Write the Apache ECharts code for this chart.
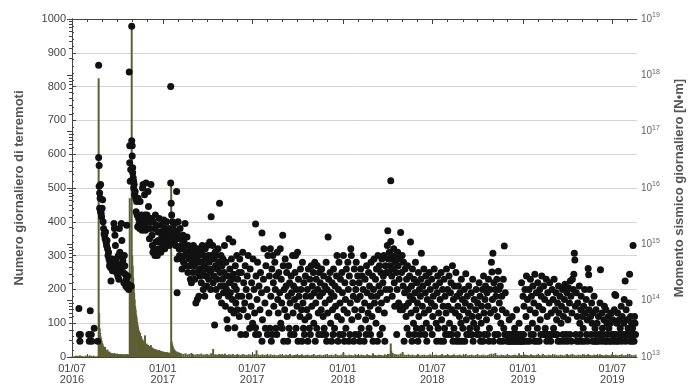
<!DOCTYPE html>
<html>
<head>
<meta charset="utf-8">
<script src="https://cdn.jsdelivr.net/npm/echarts@6/dist/echarts.min.js"></script>
<style>
    html, body { margin: 0; padding: 0; background: #fff; }
    #sismicita { width: 694px; height: 385px; }
</style>
</head>
<body>
<div id="sismicita"></div>
<script>
    // giorni contati dal 01/07/2016
    const etichetteX = ['01/07\n2016', '01/01\n2017', '01/07\n2017', '01/01\n2018', '01/07\n2018', '01/01\n2019', '01/07\n2019'];
    const giorniEtichette = [0, 184, 365, 549, 730, 914, 1095];
    const giornoFine = 1145;

    // numero giornaliero di terremoti [giorno, n]
    const conteggiSequenza = [
        [54,825],[55,130],[56,85],[57,72],[58,60],[59,55],[60,47],[61,42],[62,38],[63,33],[64,30],[65,27],[66,24],[67,30],[68,21],[69,19],[70,18],[71,16],[72,22],[73,15],[74,14],[75,13],[76,16],[77,12],[78,11],[79,12],[80,10],[81,11],[82,9],[83,10],[84,9],[85,8],[86,12],[87,8],[88,9],[89,7],[90,8],[91,10],[92,7],[93,8],[94,7],[95,9],[96,6],[97,8],[98,7],[99,6],[100,9],[101,7],[102,6],[103,8],[104,6],[105,7],[106,6],[107,8],[108,5],[109,6],[110,7],[111,9],[112,6],[113,5],[114,7],[115,6],[116,8],
        [117,470],[118,200],[119,120],[120,90],[121,980],[122,300],[123,270],[124,235],[125,210],[126,190],[127,170],[128,150],[129,140],[130,125],[131,118],[132,105],[133,95],[134,88],[135,80],[136,76],[137,68],[138,72],[139,60],[140,62],[141,55],[142,50],[143,52],[144,45],[145,47],[146,40],[147,44],[148,64],[149,38],[150,35],[151,40],[152,33],[153,30],[154,36],[155,28],[156,32],[157,27],[158,30],[159,25],[160,35],[161,26],[162,24],[163,28],[164,22],[165,25],[166,21],[167,24],[168,20],[169,23],[170,19],[171,22],[172,18],[173,20],[174,17],[175,19],[176,16],[177,21],[178,15],[179,18],[180,16],[181,14],[182,17],[183,15],[184,14],[185,16],[186,13],[187,15],[188,12],[189,14],[190,13],[191,12],[192,15],[193,11],[194,13],[195,12],[196,11],[197,13],[198,10],[199,12],[200,11],
        [201,515],[202,45],[203,38],[204,32],[205,28],[206,24],[207,22],[208,20],[209,18],[210,17],[211,15],[212,16],[213,14],[214,13],[215,12],[216,14],[217,11],[218,12],[219,10],[220,11]
    ];
    const conteggiFondo = [
        [0,3],[4,2],[8,4],[12,3],[16,5],[20,3],[24,2],[28,4],[32,3],[36,5],[40,3],[44,4],[48,2],[52,3],
        [222,10],[226,9],[230,11],[234,8],[238,9],[242,12],[246,8],[250,7],[254,9],[258,8],[262,10],[266,7],[270,8],[274,9],[278,7],[282,11],[286,24],[290,8],[294,7],[298,9],[302,8],[306,7],[310,10],[314,6],[318,8],[322,7],[326,9],[330,6],[334,8],[338,7],[342,6],[346,9],[350,7],[354,6],[358,8],[362,7],[366,6],[370,9],[374,20],[378,7],[382,6],[386,8],[390,6],[394,7],[398,5],
        [402,8],[406,6],[410,7],[414,5],[418,6],[422,8],[426,6],[430,5],[434,7],[438,6],[442,9],[446,5],[450,6],[454,7],[458,5],[462,6],[466,8],[470,5],[474,6],[478,7],[482,5],[486,6],[490,9],[494,5],[498,6],[502,7],[506,5],[510,6],[514,8],[518,5],[522,6],[526,7],[530,5],[534,9],[538,6],[542,5],[546,7],[550,13],[554,6],[558,5],[562,7],[566,6],[570,5],[574,8],[578,6],[582,5],[586,7],[590,6],[594,5],[598,8],
        [602,6],[606,5],[610,11],[614,6],[618,5],[622,7],[626,6],[630,5],[634,8],[638,6],[642,9],[646,40],[647,18],[650,12],[654,9],[658,8],[662,7],[666,10],[670,15],[674,7],[678,6],[682,8],[686,6],[690,7],[694,5],[698,6],[702,8],[706,5],[710,6],[714,7],[718,5],[722,6],[726,8],[730,5],[734,6],[738,7],[742,5],[746,6],[750,9],[754,5],[758,6],[762,7],[766,5],[770,6],[774,8],[778,5],[782,6],[786,7],[790,5],[794,6],[798,9],
        [802,5],[806,6],[810,7],[814,5],[818,6],[822,8],[826,5],[830,6],[834,7],[838,5],[842,6],[846,8],[850,10],[854,6],[858,12],[862,6],[866,5],[870,7],[874,6],[878,5],[882,7],[886,6],[890,5],[894,6],[898,7],[902,5],[906,11],[910,6],[914,5],[918,7],[922,6],[926,5],[930,8],[934,6],[938,5],[942,7],[946,6],[950,5],[954,9],[958,6],[962,5],[966,7],[970,6],[974,5],[978,8],[982,6],[986,5],[990,7],[994,6],[998,5],
        [1002,8],[1006,6],[1010,7],[1014,9],[1018,6],[1022,5],[1026,7],[1030,6],[1034,5],[1038,8],[1042,6],[1046,9],[1050,6],[1054,5],[1058,7],[1062,6],[1066,5],[1070,8],[1074,6],[1078,5],[1082,7],[1086,6],[1090,5],[1094,8],[1098,6],[1102,7],[1106,5],[1110,6],[1114,8],[1118,5],[1122,6],[1126,7],[1130,9],[1134,6],[1138,5],[1142,7]
    ];

    // momento sismico giornaliero, log10 [N*m] -> [giorno, esponente]
    const momento2016 = [
        [14,13.86],[15,13.40],[16,13.28],[17,13.40],[34,13.40],[35,13.28],[37,13.82],[39,13.40],[40,13.28],[45,13.51],[52,13.28],
        [54,18.18],[54,16.54],[55,16.40],[55,16.03],[56,15.91],[56,15.64],[57,15.82],[58,15.58],[58,16.06],[59,15.55],[60,15.49],[61,15.64],[62,15.79],[63,15.40],[64,15.28],[65,15.19],[66,15.16],[67,15.10],[68,15.22],[69,15.04],[70,14.98],[71,15.07],[72,14.92],[73,14.80],[74,14.86],[75,14.74],[76,14.62],[77,14.68],[78,14.59],[79,14.35],[80,14.62],[81,14.74],[82,14.53],[83,14.68],[84,14.59],[85,15.37],[86,15.28],[87,15.16],[88,14.98],[89,14.74],[90,14.50],[91,14.56],[92,14.65],[93,14.44],[94,14.80],[95,14.38],[96,15.28],[97,14.86],[98,14.62],[99,14.56],[100,15.37],[101,15.07],[102,14.77],[103,14.71],[104,14.50],[105,14.32],[106,14.80],[107,14.62],[108,14.47],[109,14.26],[110,14.38],[111,15.34],[112,14.23],[113,14.44],[114,14.29],[115,14.20],
        [116,18.06],[117,16.75],[117,16.45],[118,16.12],[119,16.33],[120,14.26],[121,18.87],[121,16.84],[122,16.75],[122,16.57],[123,16.36],[123,16.27],[124,16.18],[125,16.12],[125,16.00],[126,16.06],[127,15.88],[128,15.94],[129,15.82],[130,15.58],[131,15.76],[132,15.52],[133,15.31],[134,15.82],[135,15.46],[136,15.37],[137,15.28],[138,15.76],[139,15.43],[140,15.34],[141,15.52],[142,15.25],[143,16.00],[144,16.06],[145,15.43],[146,15.34],[147,15.88],[148,15.52],[149,15.25],[150,16.09],[151,15.40],[152,15.52],[153,15.28],[154,15.94],[155,15.67],[156,15.46],[157,15.10],[158,15.40],[159,15.28],[160,16.06],[161,15.46],[162,15.16],[163,14.98],[164,14.86],[165,15.40],[166,14.92],[167,15.28],[168,14.80],[169,15.52],[170,15.04],[171,14.86],[172,15.34],[173,14.80],[174,15.22],[175,15.07],[176,14.92],[177,15.46],[178,15.22],[179,15.04],[180,14.86],[181,15.34],[182,15.13],[183,15.22]
    ];
    const momento2017 = [
        [184,14.98],[185,15.07],[186,15.43],[187,15.16],[188,14.92],[189,15.28],[190,15.10],[191,15.19],[192,15.40],[193,15.04],[194,15.22],[195,15.13],[196,15.28],[197,14.98],[198,15.16],[199,15.10],[200,17.80],[200,16.09],
        [201,15.73],[201,15.22],[202,15.52],[203,15.19],[204,15.40],[205,15.28],[206,15.16],[207,15.04],[208,15.37],[209,15.10],[210,14.98],[211,15.22],[212,15.94],[213,14.14],[213,14.74],[214,15.10],[215,15.40],[216,15.16],[217,14.92],[218,14.80],[219,15.28],[220,15.10],[221,14.98],[222,14.74],[223,14.56],[224,14.92],[225,15.16],[226,14.68],[227,15.04],[228,14.80],[229,15.37],[230,14.98],[231,14.62],[232,14.86],[233,15.13],[234,14.80],[235,14.50],[236,14.98],[237,14.74],[238,14.86],[239,14.62],[240,14.38],[241,14.80],[242,14.32],[243,14.92],[244,14.71],[245,14.50],[246,14.98],[247,14.80],[248,14.62],[249,14.38],[250,14.86],[251,13.96],[252,14.74],[253,14.50],[254,14.02],[255,14.92],[256,14.68],[257,14.08],[258,14.80],[259,14.56],[260,14.44],
        [261,14.86],[262,14.32],[263,14.68],[264,14.98],[265,14.50],[266,14.20],[267,14.80],[268,14.62],[269,14.08],[270,14.92],[271,14.44],[272,14.74],[273,14.26],[274,14.98],[275,14.56],[276,14.80],[277,14.38],[278,14.68],[279,15.04],[280,14.50],[281,14.20],[282,15.49],[283,14.80],[284,14.56],[285,14.98],[286,14.32],[287,14.74],[288,14.44],[289,13.57],[290,14.86],[291,14.62],[292,14.20],[293,14.80],[294,14.38],[295,14.56],[296,14.92],[297,14.08],[298,14.68],[299,15.73],[300,14.50],[301,14.26],[302,14.80],[303,13.96],[304,14.62],[305,14.38],[306,14.74],[307,14.14],[308,14.50],[309,14.98],[310,14.26],[311,13.90],[312,14.68],[313,14.20],[314,13.66],[315,14.44],[316,13.51],[317,14.08],[318,15.10],[319,14.32],[320,14.56],[321,14.14],[322,13.84],[323,14.74],[324,14.38],[325,14.02],[326,15.04],[327,14.47],[328,13.78],[329,14.26],[330,13.52],[331,14.62],[332,13.96],[333,14.20],[334,14.80],[335,13.84],[336,14.38],[337,14.08],[338,14.50],[339,13.72],[340,14.74],
        [342,13.40],[343,14.50],[344,14.08],[346,14.86],[347,13.84],[348,14.32],[350,13.96],[351,14.62],[352,13.40],[353,14.20],[355,14.44],[356,13.72],[357,14.80],[359,14.08],[360,13.51],[361,14.56],[363,13.90],[364,14.32],[366,13.60],[367,14.74],[369,14.20],[370,13.78],[372,15.36],[372,13.52],[372,13.40],[373,14.44],[375,14.02],[376,14.68],[378,13.40],[379,14.26],[381,13.84],[382,14.50],[384,14.14],[385,15.20],[385,13.28],[386,13.66],[388,14.38],[389,14.92],[391,13.96],[392,13.51],[393,14.62],[395,14.20],[396,13.40],[397,14.80],[399,13.78],[400,14.44],
        [401,13.51],[402,14.92],[403,14.08],[404,13.28],[405,14.56],[406,13.40],[407,14.80],[408,14.32],[409,13.90],[411,14.68],[412,14.20],[413,13.51],[414,14.44],[415,13.40],[416,14.86],[417,14.02],[418,13.78],[419,14.50],[421,14.14],[422,14.92],[423,13.60],[424,14.38],[425,13.96],[426,13.51],[427,15.16],[428,14.62],[429,13.28],[430,14.20],[431,13.84],[432,14.74],[434,14.26],[435,14.50],[436,13.72],[437,13.28],[438,14.08],[439,14.62],[440,13.51],[441,14.32],[442,13.96],[443,13.40],[444,14.44],[445,14.14],[447,14.80],[448,13.78],[449,14.26],[450,13.40],[451,14.02],[452,14.50],[453,14.80],[454,13.51],[455,14.20],[456,13.90],[457,14.86],[458,13.28],[459,14.38],[460,14.08],[462,13.72],[463,14.56],[464,14.20],[465,13.84],[466,13.28],[467,14.68],[468,13.96],[469,13.51],[470,14.32],[471,13.40],[472,13.66],[473,14.44],[474,14.08],[476,13.84],[477,14.20],[478,13.28],[479,14.56],[480,13.72],
        [481,13.51],[482,14.38],[483,13.40],[484,14.08],[485,14.62],[486,13.90],[487,14.26],[489,14.50],[490,13.60],[491,14.14],[492,14.68],[493,13.28],[494,13.96],[495,14.38],[496,13.51],[497,14.62],[498,14.20],[499,13.78],[500,13.40],[501,14.50],[502,14.08],[503,14.32],[505,13.84],[506,14.56],[507,13.40],[508,14.14],[509,13.72],[510,14.44],[511,13.51],[512,14.26],[513,13.96],[514,13.40],[515,14.68],[516,13.28],[517,14.20],[518,13.78],[519,15.13],[520,14.38],[522,14.02],[523,14.50],[524,13.60],[525,14.14],[526,13.28],[527,14.32],[528,13.84],[529,13.40],[530,14.56],[531,14.08],[532,13.51],[533,14.26],[534,13.90],[536,14.44],[537,14.80],[538,13.72],[539,13.28],[540,14.20],[541,14.68],[542,13.40],[543,13.96],[544,14.38],[546,13.66],[547,14.50],[548,14.14]
    ];
    const momento2018 = [
        [549,13.40],[550,14.80],[551,13.84],[552,13.28],[553,14.32],[554,14.02],[555,13.51],[556,14.56],[558,13.78],[559,14.68],[560,14.20],[561,13.28],[562,14.44],[563,13.40],[564,13.96],[565,14.92],[566,14.80],[567,13.66],[569,14.32],[570,14.08],[571,13.28],[572,14.56],[573,13.84],[574,13.40],[575,14.20],[576,14.68],[578,14.02],[579,14.44],[580,13.72],
        [581,13.40],[582,14.32],[583,13.28],[584,14.08],[585,14.56],[586,13.51],[587,13.84],[588,14.44],[590,14.20],[591,14.80],[592,13.28],[593,13.96],[594,14.38],[595,13.66],[596,13.40],[597,14.62],[598,14.14],[600,13.78],[601,14.50],[602,13.51],[603,14.26],[604,13.90],[605,13.40],[606,14.68],[607,14.08],[608,13.72],[609,14.44],[610,13.28],[611,14.20],[612,14.74],[613,13.96],[615,14.38],[616,13.60],[617,14.56],[618,14.08],[619,13.28],[620,14.80],[621,13.84],[622,14.26],[623,14.62],[624,13.40],[625,14.14],[626,14.50],[627,13.96],[628,14.74],[629,13.51],[630,14.32],[631,14.44],[632,14.80],[633,13.78],[634,13.28],[635,14.62],[636,14.20],[637,14.50],[638,14.02],[639,14.98],[640,15.24],
        [641,14.74],[642,14.50],[643,14.86],[644,14.20],[645,14.62],[646,16.13],[646,15.05],[647,14.80],[648,14.44],[649,14.08],[650,14.74],[651,14.56],[652,14.92],[653,14.32],[654,13.90],[655,14.68],[656,14.80],[657,14.50],[658,13.40],[659,14.20],[660,14.86],[661,14.62],[662,13.96],[663,14.38],[664,14.74],[665,13.84],[666,15.21],[666,13.90],[667,13.87],[668,14.50],[669,14.80],[670,13.84],[671,14.26],[672,14.68],[673,13.28],[674,14.14],[675,14.56],[676,13.90],[677,13.72],[678,14.38],[679,13.51],[680,14.62],[681,14.20],[682,13.96],[683,13.40],[684,14.44],[685,14.08],[686,15.04],[687,13.78],[688,14.26],[689,13.28],[690,14.56],[691,14.02],[692,13.60],[693,14.38],[694,13.40],[695,14.14],[696,14.68],[697,13.84],[698,13.51],[699,14.32],[700,13.96],
        [701,13.28],[702,14.50],[703,13.72],[704,14.20],[705,13.40],[706,14.08],[707,14.38],[708,14.84],[709,13.51],[710,13.90],[711,14.26],[713,14.56],[714,13.78],[715,13.40],[716,14.14],[717,14.44],[718,13.60],[719,13.28],[720,14.02],[721,14.32],[723,13.84],[724,14.50],[725,13.51],[726,14.20],[728,13.96],[729,14.38],[730,13.40],[731,13.72],[732,14.08],[734,14.56],[735,13.90],[737,14.26],[738,13.60],[739,13.28],[740,14.14],[741,14.44],[742,13.51],[743,13.78],[745,14.32],[746,14.02],[747,13.28],[748,14.50],[749,13.66],[751,14.20],[752,13.90],[753,13.28],[754,14.38],[755,13.51],[756,14.08],[757,13.40],[758,13.78],[759,14.56],[761,14.20],[762,13.90],[763,13.40],[764,14.44],[765,13.60],[767,14.14],[768,14.32],[769,13.40],[770,13.84],[771,14.62],[772,13.28],[773,14.02],[774,13.51],[775,14.26],[777,13.78],[778,14.50],[779,13.28],[780,14.08],
        [781,13.40],[782,13.90],[783,14.26],[784,13.28],[785,13.72],[786,14.14],[788,13.60],[789,14.38],[790,13.28],[791,14.02],[792,13.51],[793,13.84],[795,14.20],[796,13.28],[797,13.96],[798,14.48],[799,13.66],[800,13.40],[801,14.08],[803,13.78],[804,14.26],[805,13.40],[806,13.51],[807,13.90],[809,14.14],[810,13.40],[811,13.72],[812,14.38],[813,13.28],[814,13.60],[815,14.02],[818,13.84],[819,14.20],[820,13.51],[821,13.40],[822,13.96],[824,13.72],[825,14.32],[826,13.40],[827,14.08],[828,13.28],[829,13.60],[830,13.90],[832,14.20],[833,13.28],[834,14.44],[835,13.78],[836,13.40],[837,14.02],[838,14.26],[840,13.66],[841,14.14],[842,13.40],[843,13.90],[844,14.38],[845,13.28],[846,13.51],[847,14.20],[848,13.78],[850,14.68],[851,14.51],[852,14.02],[853,14.84],[854,13.28],[855,14.32],[856,13.84],[857,13.40],[858,14.20],[859,14.08],[861,14.38],[862,13.72],[863,13.40],[864,14.52],[865,14.20],[866,13.96],[867,13.28],[868,14.26],[869,13.60],[871,14.08],[872,13.84],[873,13.28],[874,14.38],[875,13.51],[876,14.97],[877,13.40],[878,14.14],[880,13.78],
        [881,13.40],[882,13.28],[884,13.40],[885,13.28],[886,13.66],[887,13.28],[888,13.40],[890,13.28],[891,13.40],[892,13.72],[893,13.28],[895,13.40],[896,13.28],[897,13.51],[899,13.28],[900,13.40],[901,13.84],[902,13.28],[904,13.40],[905,13.28],[906,13.60],[908,13.28],[909,13.40],[910,13.28],[911,14.32],[912,13.40],[913,13.28]
    ];
    const momento2019 = [
        [914,14.08],[915,13.40],[916,13.90],[917,13.28],[918,14.20],[920,13.72],[921,14.44],[922,13.28],[923,14.02],[924,13.51],[926,14.20],[927,13.28],[928,13.84],[929,14.38],[930,13.40],[931,14.08],[933,13.60],[934,14.26],[935,13.40],[936,13.96],[937,13.28],[938,14.47],[939,13.78],[941,14.14],[942,13.28],[943,13.51],[944,14.32],[946,13.90],[947,13.28],[948,14.20],[949,13.66],[950,13.40],[951,14.08],[952,14.44],[954,13.84],[955,13.40],[956,14.26],[958,14.02],[959,13.51],[960,13.40],[961,14.38],[962,13.28],[963,13.72],[964,14.14],[965,13.40],[967,13.96],[968,14.32],[969,13.40],[970,13.28],
        [971,13.78],[972,13.40],[973,14.20],[975,14.02],[976,13.51],[977,14.38],[978,13.40],[979,13.84],[981,14.14],[982,13.66],[983,13.40],[984,13.96],[985,13.28],[986,14.26],[987,13.78],[989,14.08],[990,13.28],[991,13.60],[992,13.90],[994,14.20],[995,13.40],[996,13.72],[997,13.28],[998,14.02],[999,14.29],[1001,13.84],[1002,13.40],[1003,14.14],[1004,13.28],[1005,13.66],[1006,14.23],[1008,13.96],[1009,13.40],[1010,14.35],[1011,14.08],[1012,13.28],[1013,13.78],[1014,14.38],[1016,14.20],[1017,14.47],[1018,14.84],[1019,14.72],[1020,13.90],[1021,13.40],[1022,14.14],[1023,13.28],[1024,13.72],[1025,13.96],[1027,13.28],[1028,14.26],[1029,13.60],[1030,13.40],[1031,13.84],[1032,14.08],[1033,13.28],[1034,13.72],[1036,13.51],[1037,13.90],[1038,13.28],[1039,14.20],[1040,13.78],[1042,14.02],[1043,13.40],[1044,13.66],[1045,13.28],[1046,14.57],[1047,14.46],[1048,13.84],[1049,14.20],[1051,13.72],[1052,13.40],[1053,13.96],[1054,13.60],[1055,13.28],[1056,13.78],[1058,14.08],[1059,13.28],[1060,13.51],
        [1061,13.40],[1062,13.84],[1063,13.28],[1064,13.60],[1066,13.28],[1067,13.72],[1068,13.40],[1070,13.96],[1071,14.55],[1072,13.40],[1073,13.28],[1074,13.78],[1075,13.51],[1077,13.40],[1078,13.66],[1079,13.90],[1080,13.28],[1082,13.84],[1083,13.28],[1084,13.60],[1085,13.40],[1087,13.72],[1088,13.51],[1089,13.28],[1091,13.60],[1092,13.28],[1093,13.78],[1094,13.40],[1096,13.66],[1097,13.40],[1098,13.28],[1099,13.84],[1100,14.11],[1101,13.40],[1102,14.09],[1103,13.28],[1104,13.60],[1106,13.78],[1107,13.28],[1108,13.40],[1109,13.66],[1111,13.51],[1112,13.40],[1113,13.90],[1114,13.28],[1115,13.72],[1116,13.40],[1118,13.60],[1119,14.02],[1120,13.40],[1121,14.35],[1122,13.28],[1123,13.84],[1124,13.40],[1125,13.66],[1127,13.51],[1128,13.40],[1129,13.96],[1130,14.47],[1131,13.28],[1132,13.72],[1133,13.40],[1134,13.60],[1135,13.28],[1136,13.51],[1137,14.98],[1138,13.40],[1139,13.28],[1140,13.72],[1141,13.60],[1142,13.40]
    ];

    // inizio di ogni mese, per le tacche minori
    const inizioMesi = [];
    for (let m = 0; ; m++) {
        const g = (Date.UTC(2016, 6 + m, 1) - Date.UTC(2016, 6, 1)) / 86400000;
        if (g > giornoFine) break;
        inizioMesi.push(g);
    }
    const taccheLog = [];
    for (let n = 13; n < 19; n++) {
        for (let k = 2; k <= 9; k++) taccheLog.push(n + Math.log10(k));
    }

    const font = 'Liberation Sans';
    const coloreAssi = '#444';

    const assePerX = function (posizione, tacche, lunghezza, conEtichette, conLinea) {
        return {
            type: 'value',
            min: 0,
            max: giornoFine,
            position: posizione,
            splitLine: { show: false },
            axisLine: { show: conLinea, lineStyle: { color: coloreAssi, width: 1 } },
            axisTick: { show: true, inside: true, length: lunghezza, customValues: tacche, lineStyle: { color: coloreAssi } },
            axisLabel: conEtichette ? {
                show: true,
                customValues: giorniEtichette,
                formatter: (v) => etichetteX[giorniEtichette.indexOf(v)] || '',
                fontFamily: font,
                fontSize: 11,
                lineHeight: 11,
                color: '#444',
                margin: 6
            } : { show: false }
        };
    };

    const chart = echarts.init(document.getElementById('sismicita'));

    const option = {
        backgroundColor: '#fff',
        animation: false,
        grid: { left: 72, right: 42, top: 19, bottom: 27 },
        xAxis: [
            assePerX('bottom', giorniEtichette, 5, true, true),
            assePerX('bottom', inizioMesi, 3, false, false),
            assePerX('top', giorniEtichette, 5, false, true),
            assePerX('top', inizioMesi, 3, false, false)
        ],
        yAxis: [
            {
                type: 'value',
                min: 0,
                max: 1000,
                interval: 100,
                position: 'left',
                name: 'Numero giornaliero di terremoti',
                nameLocation: 'middle',
                nameGap: 46,
                nameTextStyle: { fontFamily: font, fontSize: 13, fontWeight: 'bold', color: '#555' },
                axisLine: { show: true, lineStyle: { color: coloreAssi } },
                axisTick: { show: true, inside: true, length: 4, lineStyle: { color: coloreAssi } },
                minorTick: { show: true, splitNumber: 5, length: 2, lineStyle: { color: coloreAssi } },
                splitLine: { show: true, lineStyle: { color: '#d4d4d4', width: 1 } },
                axisLabel: { fontFamily: font, fontSize: 11, color: '#444', margin: 6, formatter: (v) => String(v) }
            },
            {
                type: 'value',
                min: 13,
                max: 19,
                interval: 1,
                position: 'right',
                name: 'Momento sismico giornaliero [N\u2022m]',
                nameLocation: 'middle',
                nameRotate: 90,
                nameGap: 36,
                nameTextStyle: { fontFamily: font, fontSize: 13, fontWeight: 'bold', color: '#555' },
                axisLine: { show: true, lineStyle: { color: coloreAssi } },
                axisTick: { show: true, inside: true, length: 5, lineStyle: { color: coloreAssi } },
                splitLine: { show: false },
                axisLabel: {
                    margin: 4,
                    formatter: (v) => '{b|10}{s|' + v + '}',
                    rich: {
                        b: { fontFamily: font, fontSize: 10, color: '#666' },
                        s: { fontFamily: font, fontSize: 7, color: '#666', padding: [0, 0, 7, 0] }
                    }
                }
            },
            {
                type: 'value',
                min: 13,
                max: 19,
                position: 'right',
                axisLine: { show: false },
                axisTick: { show: true, inside: true, length: 3, customValues: taccheLog, lineStyle: { color: coloreAssi } },
                axisLabel: { show: false },
                splitLine: { show: false }
            }
        ],
        series: [
            {
                name: 'Numero giornaliero',
                type: 'bar',
                xAxisIndex: 0,
                yAxisIndex: 0,
                barWidth: 2,
                itemStyle: { color: '#5f5f36' },
                data: conteggiSequenza.concat(conteggiFondo)
            },
            {
                name: 'Momento sismico',
                type: 'scatter',
                xAxisIndex: 0,
                yAxisIndex: 1,
                symbolSize: 7,
                itemStyle: { color: '#111', opacity: 1 },
                data: [].concat(momento2016, momento2017, momento2018, momento2019)
            }
        ]
    };

    chart.setOption(option);

    window.addEventListener('resize', function () {
        chart.resize();
    });
</script>
</body>
</html>
